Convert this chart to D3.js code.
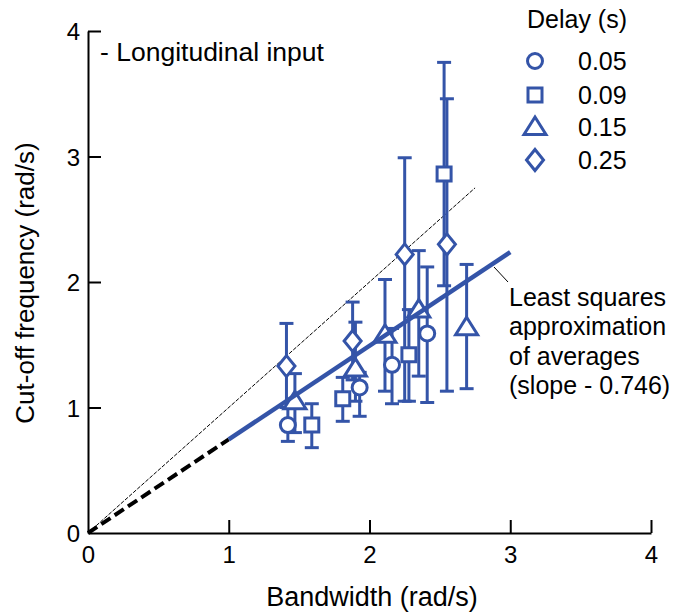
<!DOCTYPE html>
<html>
<head>
<meta charset="utf-8">
<script src="https://cdn.jsdelivr.net/npm/d3@7"></script>
<style>
  html, body { margin: 0; padding: 0; background: #fff; }
  svg { display: block; font-family: "Liberation Sans", Arial, sans-serif; }
</style>
</head>
<body>
<svg id="chart" width="675" height="612"></svg>
<script>
// ---- data ----
const delays = ["0.05", "0.09", "0.15", "0.25"];
const shapes = ["circle", "square", "triangle", "diamond"];

// each point: [bandwidth, cut-off, lower, upper]
const circle005 = [
  [1.42, 0.86, 0.73, 1.00],
  [1.93, 1.16, 0.93, 1.28],
  [2.16, 1.34, 1.03, 1.63],
  [2.41, 1.59, 1.04, 2.12]
];
const square009 = [
  [1.59, 0.86, 0.68, 1.03],
  [1.81, 1.07, 0.89, 1.24],
  [2.28, 1.42, 1.05, 1.78],
  [2.53, 2.86, 1.97, 3.75]
];
const triangle015 = [
  [1.47, 1.05, 0.80, 1.27],
  [1.90, 1.31, 1.05, 1.68],
  [2.11, 1.58, 1.13, 2.02],
  [2.35, 1.78, 1.25, 2.25],
  [2.69, 1.64, 1.15, 2.14]
];
const diamond025 = [
  [1.41, 1.33, 1.00, 1.67],
  [1.88, 1.53, 1.22, 1.84],
  [2.25, 2.22, 1.05, 2.99],
  [2.55, 2.30, 1.13, 3.46]
];
const seriesData = [circle005, square009, triangle015, diamond025];

const xTicks = [0, 1, 2, 3, 4];
const yTicks = [0, 1, 2, 3, 4];
const slope = 0.746;
const fitRange = [1, 3];       // solid blue part of the least squares line
const extrapRange = [0, 1];    // dashed black extrapolation
const identityRange = [0, 2.75];

const annotation = ["Least squares", "approximation", "of averages", "(slope - 0.746)"];

// ---- drawing ----
const blue = "#3454a8";
const svg = d3.select("#chart");
const x = d3.scaleLinear().domain([0, 4]).range([88, 651]);
const y = d3.scaleLinear().domain([0, 4]).range([533, 31]);

function symbolPath(kind) {
  const p = d3.path();
  if (kind === "circle") { p.arc(0, 0, 7.5, 0, 2 * Math.PI); p.closePath(); }
  else if (kind === "square") { p.rect(-7, -7, 14, 14); }
  else if (kind === "triangle") { p.moveTo(0, -10); p.lineTo(11, 7.5); p.lineTo(-11, 7.5); p.closePath(); }
  else if (kind === "diamond") { p.moveTo(0, -10.5); p.lineTo(8.5, 0); p.lineTo(0, 10.5); p.lineTo(-8.5, 0); p.closePath(); }
  return p.toString();
}

// axes
const xAxis = d3.axisBottom(x).tickValues(xTicks).tickFormat(d3.format("d"))
  .tickSize(-13).tickSizeOuter(0).tickPadding(13);
const yAxis = d3.axisLeft(y).tickValues(yTicks).tickFormat(d3.format("d"))
  .tickSize(-13).tickSizeOuter(0).tickPadding(8);

const gx = svg.append("g").attr("transform", `translate(0,${y(0)})`).call(xAxis);
const gy = svg.append("g").attr("transform", `translate(${x(0)},0)`).call(yAxis);
[gx, gy].forEach(g => {
  g.selectAll("path, line").attr("stroke", "#000").attr("stroke-width", 2);
  g.selectAll("text").attr("fill", "#000").attr("font-size", 24)
    .attr("font-family", "'Liberation Sans', Arial, sans-serif");
});
gx.selectAll(".tick").filter(d => d === 0).select("line").remove();
gy.selectAll(".tick").filter(d => d === 0).select("line").remove();
gy.selectAll("text").attr("dy", "0.36em");

// axis titles
svg.append("text").attr("x", 372).attr("y", 606).attr("text-anchor", "middle")
  .attr("font-size", 27).text("Bandwidth (rad/s)");
svg.append("text").attr("transform", "translate(34,283) rotate(-90)")
  .attr("text-anchor", "middle").attr("font-size", 26).text("Cut-off frequency (rad/s)");

// identity (thin dotted) line
svg.append("line")
  .attr("x1", x(identityRange[0])).attr("y1", y(identityRange[0]))
  .attr("x2", x(identityRange[1])).attr("y2", y(identityRange[1]))
  .attr("stroke", "#000").attr("stroke-width", 1).attr("stroke-dasharray", "4,1.5");

// dashed extrapolation
svg.append("line")
  .attr("x1", x(extrapRange[0])).attr("y1", y(slope * extrapRange[0]))
  .attr("x2", x(extrapRange[1])).attr("y2", y(slope * extrapRange[1]))
  .attr("stroke", "#000").attr("stroke-width", 4).attr("stroke-dasharray", "11,5");

// error bars and markers
const capHalf = 7;
seriesData.forEach((pts) => {
  const g = svg.append("g");
  pts.forEach(([bx, cy, lo, hi]) => {
    g.append("line").attr("x1", x(bx)).attr("x2", x(bx)).attr("y1", y(lo)).attr("y2", y(hi))
      .attr("stroke", blue).attr("stroke-width", 3);
    [lo, hi].forEach(v => {
      g.append("line").attr("x1", x(bx) - capHalf).attr("x2", x(bx) + capHalf)
        .attr("y1", y(v)).attr("y2", y(v)).attr("stroke", blue).attr("stroke-width", 3);
    });
  });
});
seriesData.forEach((pts, si) => {
  svg.append("g").selectAll("path").data(pts).join("path")
    .attr("d", symbolPath(shapes[si]))
    .attr("transform", d => `translate(${x(d[0])},${y(d[1])})`)
    .attr("fill", "#fff").attr("stroke", blue).attr("stroke-width", 3);
});

// least squares line
svg.append("line")
  .attr("x1", x(fitRange[0])).attr("y1", y(slope * fitRange[0]))
  .attr("x2", x(fitRange[1])).attr("y2", y(slope * fitRange[1]))
  .attr("stroke", blue).attr("stroke-width", 4.5);

// annotation
svg.append("line").attr("x1", 494).attr("y1", 267).attr("x2", 508).attr("y2", 282)
  .attr("stroke", "#000").attr("stroke-width", 1);
svg.append("g").selectAll("text").data(annotation).join("text")
  .attr("x", 509).attr("y", (d, i) => 306 + i * 29.3)
  .attr("font-size", 25).text(d => d);

// top-left label
svg.append("text").attr("x", 100).attr("y", 61).attr("font-size", 26.5).text("- Longitudinal input");

// legend
svg.append("text").attr("x", 527).attr("y", 28).attr("font-size", 25).text("Delay (s)");
const legY = [61, 95, 127, 160];
delays.forEach((dl, i) => {
  svg.append("path").attr("d", symbolPath(shapes[i]))
    .attr("transform", `translate(535,${legY[i]})`)
    .attr("fill", "#fff").attr("stroke", blue).attr("stroke-width", 3);
  svg.append("text").attr("x", 578).attr("y", legY[i]).attr("dy", "0.36em")
    .attr("font-size", 25).text(dl);
});
</script>
</body>
</html>
